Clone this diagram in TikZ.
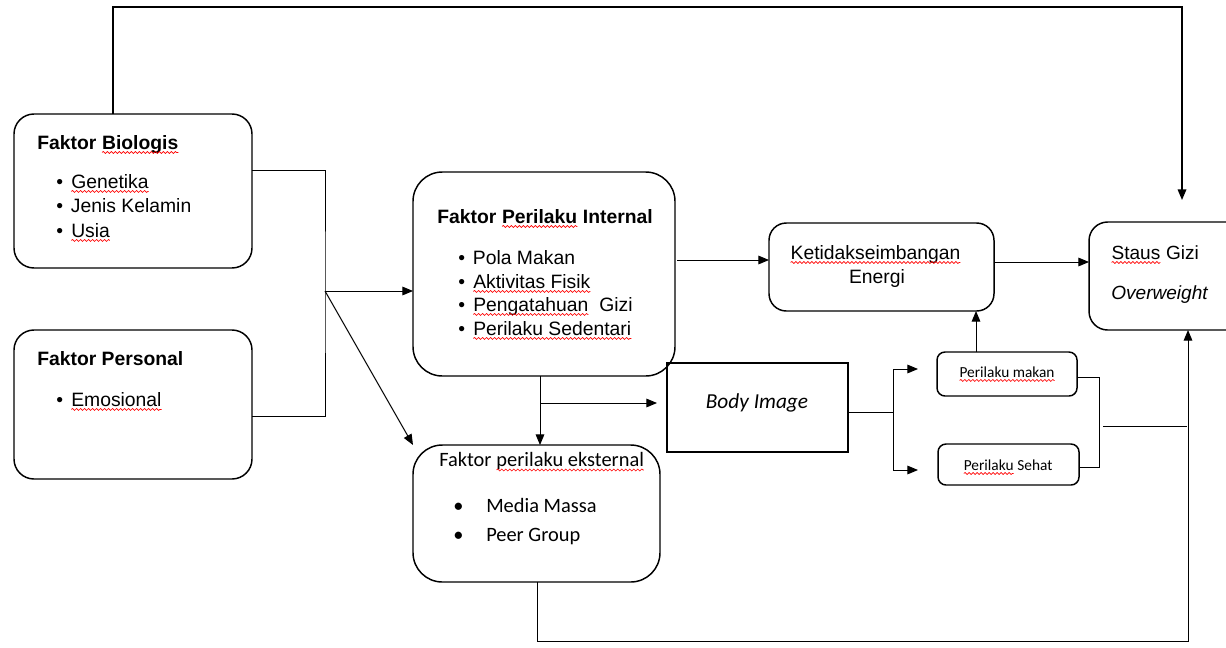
\documentclass[tikz,border=0pt]{standalone}
\usepackage{fontspec}
\setmainfont{Liberation Sans}
\newfontfamily\calfont{Carlito}
\usetikzlibrary{arrows.meta,fit,decorations.pathmorphing}

\newcommand\sq[1]{\tikz[baseline=(sqw.base)]{\node[inner sep=0pt,outer sep=0pt,anchor=base] (sqw) {#1};\draw[red,line width=0.5pt,decorate,decoration={snake,amplitude=0.75pt,segment length=3pt}] ([yshift=-2.6pt]sqw.base west) -- ([yshift=-2.6pt]sqw.base east);}}
\newcommand\bul{\makebox[11pt][l]{\textbullet}}

\begin{document}
\begin{tikzpicture}[x=0.75pt,y=-0.75pt,
  box/.style={draw=black,line width=1.1pt,inner sep=0pt,outer sep=0pt},
  conn/.style={line width=0.75pt},
  arr/.style={conn,-{Triangle[length=8pt,width=6.5pt]}},
  lab/.style={inner sep=0pt,anchor=base west,font=\fontsize{14.5}{17}\selectfont},
  labb/.style={inner sep=0pt,anchor=base west,font=\fontsize{14.5}{17}\selectfont\bfseries},
  cal/.style={inner sep=0pt,anchor=base west,font=\calfont\fontsize{15.3}{18}\selectfont}]
\useasboundingbox (0,0) rectangle (1226,647);
\clip (0,0) rectangle (1226,647);

% boxes
\node[box,rounded corners=15pt,fit={(14,114)(252,268)}] (bio) {};
\node[box,rounded corners=15pt,fit={(14,330)(252,479)}] (pers) {};
\node[box,rounded corners=22pt,fit={(413,172)(675,376)}] (int) {};
\node[box,rounded corners=22pt,fit={(413,445)(660,582)}] (eks) {};
\node[box,fit={(667,363)(848,452)}] (body) {};
\node[box,rounded corners=13pt,fit={(769,223)(994,311)}] (ket) {};
\node[box,rounded corners=14pt,fit={(1089,222)(1262,330)}] (stat) {};
\node[box,rounded corners=6pt,fit={(937,352)(1077,396)}] (mak) {};
\node[box,rounded corners=6pt,fit={(938,444)(1079,485)}] (seh) {};

% texts
\node[labb] (tbio) at (37,149) {Faktor \sq{Biologis}};
\node[lab] (b1) at (56,188) {\bul\sq{Genetika}};
\node[lab] (b2) at (56,212) {\bul Jenis Kelamin};
\node[lab] (b3) at (56,237) {\bul\sq{Usia}};
\node[labb] (tpers) at (37,365) {Faktor Personal};
\node[lab] (p1) at (56,406) {\bul\sq{Emosional}};
\node[labb] (tint) at (437,223) {Faktor \sq{Perilaku} Internal};
\node[lab] (i1) at (458,264) {\bul Pola Makan};
\node[lab] (i2) at (458,288) {\bul\sq{Aktivitas Fisik}};
\node[lab] (i3) at (458,311) {\bul\sq{Pengatahuan}\ \ Gizi};
\node[lab] (i4) at (458,335) {\bul\sq{Perilaku Sedentari}};
\node[cal] (teks) at (439,466.5) {Faktor \sq{perilaku eksternal}};
\node[cal] (e1b) at (453,512.5) {\textbullet};
\node[cal] (e1) at (486,512.5) {Media Massa};
\node[cal] (e2b) at (453,541.5) {\textbullet};
\node[cal] (e2) at (486,541.5) {Peer Group};
\node[inner sep=0pt,anchor=base,font=\calfont\fontsize{16}{19}\selectfont\itshape] (tbody) at (757,408) {Body Image};
\node[lab] (tk1) at (790,259) {\sq{Ketidakseimbangan}};
\node[inner sep=0pt,anchor=base,font=\fontsize{14.5}{17}\selectfont] (tk2) at (877,283) {Energi};
\node[lab,font=\fontsize{14.3}{17}\selectfont] (ts1) at (1111,259) {\sq{Staus} Gizi};
\node[lab,font=\fontsize{14.3}{17}\selectfont\itshape] (ts2) at (1111,299) {Overweight};
\node[inner sep=0pt,anchor=base,font=\calfont\fontsize{11.5}{14}\selectfont] (tmak) at (1007,377) {\sq{Perilaku makan}};
\node[inner sep=0pt,anchor=base,font=\calfont\fontsize{11.5}{14}\selectfont] (tseh) at (1008,470) {\sq{Perilaku} Sehat};

% coordinates
\coordinate (topL) at (113,7);
\coordinate (topR) at (1182,7);
\coordinate (j1) at (325,291);
\coordinate (dn) at (540,403);
\coordinate (sp) at (893,412);
\coordinate (spT) at (893,369);
\coordinate (spB) at (893,470);
\coordinate (up) at (976,0);
\coordinate (rbT) at (1099,377);
\coordinate (rbB) at (1099,467);
\coordinate (hL) at (1103,426);
\coordinate (vR) at (1187,426);
\coordinate (bL) at (537,641);
\coordinate (bR) at (1188,641);

% connectors
\draw[arr,line width=1pt] (bio.north -| topL) -- (topL) -- (topR) -- ([yshift=16.5pt]stat.north -| topR);
\draw[conn] (bio.east |- 0,170) -| (j1) |- (pers.east |- 0,416);
\draw[arr] (j1) -- (int.west |- j1);
\draw[arr] (j1) -- (eks.north west);
\draw[arr] ([xshift=1.5pt]int.east |- 0,260) -- (ket.west |- 0,260);
\draw[arr] (ket.east |- 0,262) -- (stat.west |- 0,262);
\draw[arr] (int.south -| dn) -- (eks.north -| dn);
\draw[arr] (dn) -- ([xshift=-7.5pt]body.west |- dn);
\draw[conn] (body.east |- sp) -- (sp);
\draw[conn] (spT) -- (spB);
\draw[arr] (spT) -- ([xshift=-14.25pt]mak.west |- spT);
\draw[arr] (spB) -- ([xshift=-15pt]seh.west |- spB);
\draw[arr] (mak.north -| up) -- (ket.south -| up);
\draw[conn] (mak.east |- rbT) -- (rbT) -- (rbB) -- (seh.east |- rbB);
\draw[conn] (hL) -- (vR);
\draw[arr] (eks.south -| bL) -- (bL) -- (bR) -- (stat.south -| bR);
\end{tikzpicture}
\end{document}
